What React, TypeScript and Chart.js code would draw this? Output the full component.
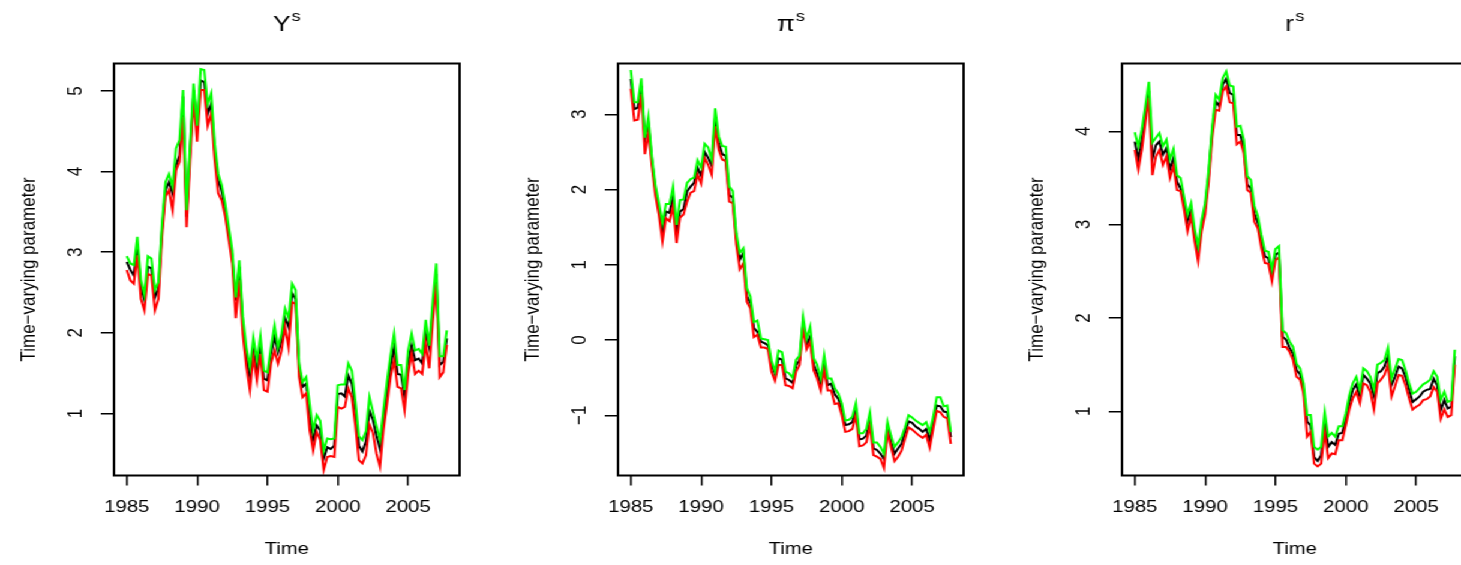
import React, { useEffect, useRef } from "react";
import { Chart, registerables } from "chart.js";

Chart.register(...registerables);

// ---------------- data (quarterly, 1985Q1 .. 2007Q4) ----------------
const START_YEAR = 1985;
const X_TICKS = [1985, 1990, 1995, 2000, 2005];

// Panel 1: Y^s
const Y_MEDIAN = [
  2.88, 2.78, 2.71, 3.08, 2.57, 2.40, 2.82, 2.80, 2.44, 2.55,
  3.27, 3.77, 3.87, 3.73, 4.08, 4.20, 4.93, 3.44, 4.26, 5.01,
  4.55, 5.13, 5.11, 4.72, 4.84, 4.26, 3.89, 3.75, 3.52, 3.23,
  2.94, 2.40, 2.82, 2.10, 1.70, 1.45, 1.78, 1.53, 1.82, 1.43,
  1.41, 1.74, 1.95, 1.76, 1.91, 2.18, 2.07, 2.49, 2.42, 1.58,
  1.33, 1.37, 0.96, 0.67, 0.85, 0.79, 0.44, 0.58, 0.56, 0.60,
  1.24, 1.25, 1.21, 1.47, 1.37, 1.05, 0.60, 0.53, 0.65, 1.03,
  0.92, 0.72, 0.56, 0.92, 1.27, 1.58, 1.82, 1.49, 1.48, 1.22,
  1.62, 1.84, 1.66, 1.68, 1.62, 1.99, 1.82, 2.28, 2.73, 1.60,
  1.64, 1.93,
];
const Y_UPPER = [
  2.95, 2.86, 2.84, 3.19, 2.66, 2.47, 2.95, 2.92, 2.53, 2.63,
  3.35, 3.87, 3.97, 3.81, 4.29, 4.39, 5.01, 3.52, 4.35, 5.09,
  4.57, 5.27, 5.26, 4.84, 4.97, 4.35, 3.97, 3.83, 3.60, 3.31,
  3.02, 2.44, 2.90, 2.20, 1.82, 1.58, 1.94, 1.66, 1.96, 1.53,
  1.51, 1.82, 2.09, 1.82, 1.99, 2.30, 2.18, 2.61, 2.53, 1.62,
  1.39, 1.45, 1.12, 0.79, 0.98, 0.91, 0.54, 0.69, 0.68, 0.69,
  1.35, 1.36, 1.36, 1.62, 1.53, 1.15, 0.72, 0.67, 0.78, 1.20,
  1.02, 0.84, 0.67, 1.05, 1.40, 1.72, 1.99, 1.60, 1.60, 1.29,
  1.78, 1.99, 1.78, 1.80, 1.74, 2.16, 1.84, 2.40, 2.86, 1.71,
  1.71, 2.03,
];
const Y_LOWER = [
  2.78, 2.65, 2.61, 2.96, 2.42, 2.28, 2.73, 2.71, 2.28, 2.42,
  3.18, 3.69, 3.77, 3.52, 4.02, 4.12, 4.68, 3.31, 4.14, 4.89,
  4.37, 5.01, 5.01, 4.57, 4.72, 4.14, 3.73, 3.64, 3.44, 3.15,
  2.86, 2.18, 2.65, 1.98, 1.58, 1.29, 1.70, 1.41, 1.74, 1.29,
  1.27, 1.62, 1.78, 1.62, 1.78, 2.07, 1.82, 2.38, 2.36, 1.45,
  1.20, 1.25, 0.79, 0.54, 0.77, 0.67, 0.30, 0.46, 0.47, 0.46,
  1.08, 1.06, 1.08, 1.31, 1.20, 0.85, 0.42, 0.38, 0.48, 0.86,
  0.76, 0.50, 0.34, 0.80, 1.12, 1.45, 1.66, 1.33, 1.31, 1.04,
  1.49, 1.74, 1.49, 1.53, 1.49, 1.87, 1.56, 2.13, 2.61, 1.45,
  1.51, 1.85,
];

// Panel 2: pi^s
const PI_MEDIAN = [
  3.47, 3.07, 3.09, 3.38, 2.67, 2.87, 2.40, 2.00, 1.75, 1.42,
  1.71, 1.69, 1.91, 1.42, 1.71, 1.74, 1.98, 2.04, 2.09, 2.29,
  2.18, 2.50, 2.42, 2.32, 2.96, 2.62, 2.47, 2.45, 1.93, 1.89,
  1.36, 1.07, 1.16, 0.58, 0.49, 0.16, 0.11, -0.02, -0.04, -0.07,
  -0.33, -0.45, -0.24, -0.26, -0.51, -0.53, -0.57, -0.33, -0.27, 0.23,
  -0.07, 0.05, -0.33, -0.44, -0.58, -0.31, -0.60, -0.58, -0.72, -0.78,
  -0.91, -1.13, -1.12, -1.09, -0.92, -1.32, -1.31, -1.27, -1.07, -1.44,
  -1.46, -1.51, -1.58, -1.16, -1.36, -1.51, -1.44, -1.38, -1.22, -1.08,
  -1.10, -1.15, -1.18, -1.22, -1.18, -1.33, -1.10, -0.87, -0.88, -0.95,
  -0.96, -1.29,
];
const PI_UPPER = [
  3.59, 3.16, 3.16, 3.48, 2.69, 2.97, 2.44, 2.06, 1.82, 1.56,
  1.81, 1.81, 2.04, 1.53, 1.86, 1.87, 2.09, 2.14, 2.16, 2.39,
  2.29, 2.61, 2.56, 2.40, 3.08, 2.71, 2.58, 2.57, 2.04, 1.98,
  1.42, 1.16, 1.22, 0.69, 0.58, 0.24, 0.26, 0.02, 0.01, 0.00,
  -0.27, -0.42, -0.14, -0.16, -0.42, -0.44, -0.50, -0.26, -0.21, 0.31,
  0.02, 0.18, -0.24, -0.33, -0.51, -0.20, -0.51, -0.51, -0.64, -0.71,
  -0.84, -1.07, -1.06, -1.02, -0.84, -1.24, -1.24, -1.18, -0.96, -1.36,
  -1.36, -1.42, -1.51, -1.09, -1.27, -1.42, -1.36, -1.29, -1.16, -1.00,
  -1.03, -1.07, -1.10, -1.13, -1.09, -1.22, -1.02, -0.76, -0.76, -0.88,
  -0.87, -1.22,
];
const PI_LOWER = [
  3.34, 2.92, 2.93, 3.27, 2.47, 2.76, 2.31, 1.92, 1.66, 1.31,
  1.62, 1.58, 1.78, 1.29, 1.63, 1.67, 1.84, 1.96, 1.98, 2.20,
  2.08, 2.42, 2.33, 2.20, 2.84, 2.53, 2.40, 2.38, 1.84, 1.82,
  1.27, 0.94, 1.02, 0.51, 0.42, 0.04, 0.07, -0.10, -0.10, -0.12,
  -0.42, -0.54, -0.33, -0.33, -0.60, -0.61, -0.64, -0.42, -0.33, 0.16,
  -0.12, -0.02, -0.40, -0.51, -0.67, -0.40, -0.67, -0.67, -0.85, -0.84,
  -1.00, -1.22, -1.21, -1.18, -1.00, -1.41, -1.40, -1.36, -1.13, -1.53,
  -1.55, -1.58, -1.70, -1.22, -1.42, -1.61, -1.55, -1.47, -1.31, -1.16,
  -1.19, -1.23, -1.27, -1.30, -1.26, -1.43, -1.18, -0.94, -0.96, -1.02,
  -1.04, -1.38,
];

// Panel 3: r^s
const R_MEDIAN = [
  3.89, 3.70, 3.91, 4.16, 4.43, 3.70, 3.85, 3.89, 3.75, 3.82,
  3.59, 3.71, 3.46, 3.39, 3.23, 3.04, 3.16, 2.89, 2.71, 3.00,
  3.18, 3.53, 4.00, 4.32, 4.27, 4.50, 4.56, 4.41, 4.39, 3.96,
  3.96, 3.82, 3.43, 3.39, 3.12, 3.02, 2.82, 2.66, 2.64, 2.46,
  2.68, 2.70, 1.80, 1.77, 1.68, 1.62, 1.44, 1.40, 1.23, 0.89,
  0.85, 0.51, 0.47, 0.53, 0.87, 0.62, 0.67, 0.64, 0.76, 0.77,
  0.91, 1.09, 1.23, 1.29, 1.16, 1.39, 1.35, 1.30, 1.16, 1.41,
  1.43, 1.48, 1.59, 1.28, 1.37, 1.48, 1.46, 1.37, 1.23, 1.10,
  1.13, 1.16, 1.21, 1.23, 1.24, 1.35, 1.28, 1.01, 1.12, 1.03,
  1.05, 1.59,
];
const R_UPPER = [
  3.99, 3.84, 4.02, 4.27, 4.53, 3.88, 3.93, 3.98, 3.84, 3.91,
  3.70, 3.81, 3.53, 3.50, 3.30, 3.11, 3.23, 2.96, 2.77, 3.05,
  3.23, 3.59, 4.05, 4.39, 4.34, 4.57, 4.64, 4.49, 4.48, 4.05,
  4.06, 3.91, 3.52, 3.48, 3.20, 3.09, 2.89, 2.72, 2.71, 2.52,
  2.74, 2.77, 1.87, 1.84, 1.75, 1.69, 1.51, 1.46, 1.30, 0.96,
  0.96, 0.62, 0.59, 0.62, 0.99, 0.73, 0.77, 0.73, 0.84, 0.84,
  0.98, 1.17, 1.30, 1.37, 1.23, 1.46, 1.43, 1.37, 1.23, 1.50,
  1.52, 1.55, 1.68, 1.35, 1.46, 1.56, 1.55, 1.44, 1.30, 1.19,
  1.21, 1.25, 1.29, 1.31, 1.34, 1.43, 1.37, 1.12, 1.21, 1.10,
  1.12, 1.66,
];
const R_LOWER = [
  3.80, 3.59, 3.80, 4.09, 4.36, 3.53, 3.73, 3.80, 3.64, 3.73,
  3.50, 3.63, 3.37, 3.36, 3.16, 2.93, 3.09, 2.82, 2.61, 2.93,
  3.11, 3.46, 3.93, 4.23, 4.22, 4.43, 4.48, 4.31, 4.30, 3.86,
  3.89, 3.77, 3.37, 3.34, 3.03, 2.96, 2.75, 2.59, 2.58, 2.39,
  2.62, 2.65, 1.69, 1.69, 1.64, 1.55, 1.37, 1.34, 1.19, 0.73,
  0.78, 0.44, 0.41, 0.44, 0.78, 0.50, 0.55, 0.54, 0.69, 0.69,
  0.85, 1.02, 1.14, 1.21, 1.09, 1.30, 1.28, 1.21, 1.02, 1.30,
  1.34, 1.39, 1.50, 1.16, 1.27, 1.39, 1.38, 1.28, 1.14, 1.02,
  1.05, 1.07, 1.12, 1.13, 1.16, 1.26, 1.21, 0.92, 1.02, 0.94,
  0.96, 1.50,
];

const Y_TICKS_Y = [1, 2, 3, 4, 5];
const Y_TICKS_PI = [-1, 0, 1, 2, 3];
const Y_TICKS_R = [1, 2, 3, 4];

const X_TITLE = "Time";
const Y_TITLE = "Time\u2212varying parameter";

// ---------------- layout (unstretched units; the page is scaled 1.2x horizontally) ----------------
const SX = 1.2;
const PAGE_W = 1461;
const PAGE_H = 565;
const AXIS_W = 95;
const BOX_W = 288;
const CANVAS_W = AXIS_W + BOX_W + 14;
const BOX_TOP = 63.5;
const BOX_BOTTOM = 475.5;
const FONT = "'Liberation Sans', Arial, Helvetica, sans-serif";
const TICK_FONT = 17;

interface PanelSpec {
  title: string;
  sup: string;
  boxLeft: number;
  yMin: number;
  yMax: number;
  yTicks: number[];
  median: number[];
  lower: number[];
  upper: number[];
}

const PANELS: PanelSpec[] = [
  { title: "Y", sup: "s", boxLeft: 95, yMin: 0.23, yMax: 5.34, yTicks: Y_TICKS_Y, median: Y_MEDIAN, lower: Y_LOWER, upper: Y_UPPER },
  { title: "\u03c0", sup: "s", boxLeft: 515.25, yMin: -1.8, yMax: 3.676, yTicks: Y_TICKS_PI, median: PI_MEDIAN, lower: PI_LOWER, upper: PI_UPPER },
  { title: "r", sup: "s", boxLeft: 935.25, yMin: 0.313, yMax: 4.726, yTicks: Y_TICKS_R, median: R_MEDIAN, lower: R_LOWER, upper: R_UPPER },
];

const fmt = (v: number) => String(v).replace("-", "\u2212");

function Panel({ spec }: { spec: PanelSpec }) {
  const ref = useRef<HTMLCanvasElement>(null);

  useEffect(() => {
    const canvas = ref.current;
    if (!canvas) return;
    const time = spec.median.map((_, i) => START_YEAR + i / 4);
    const pts = (arr: number[]) => arr.map((v, i) => ({ x: time[i], y: v }));

    const mctx = document.createElement("canvas").getContext("2d")!;
    mctx.font = `${TICK_FONT}px ${FONT}`;
    const widest = Math.max(...spec.yTicks.map((t) => mctx.measureText(fmt(t)).width));
    const yTickLen = 11;
    const yLabelCenter = 31.6;
    const yPad = yLabelCenter - yTickLen - widest / 2;

    const decor = {
      id: "decor",
      afterDatasetsDraw(chart: any) {
        const { ctx, chartArea: ca } = chart;
        ctx.save();
        ctx.strokeStyle = "#000";
        ctx.lineWidth = 2;
        ctx.strokeRect(ca.left, ca.top, ca.right - ca.left, ca.bottom - ca.top);
        ctx.restore();
      },
      afterDraw(chart: any) {
        const { ctx, chartArea: ca } = chart;
        const cx = (ca.left + ca.right) / 2;
        ctx.save();
        ctx.fillStyle = "#000";
        ctx.textBaseline = "alphabetic";
        // main title with superscript
        const mainF = `22px ${FONT}`;
        const supF = `15px ${FONT}`;
        ctx.font = mainF;
        const w1 = ctx.measureText(spec.title).width;
        ctx.font = supF;
        const w2 = ctx.measureText(spec.sup).width;
        const x0 = cx - (w1 + w2 + 1) / 2;
        ctx.textAlign = "left";
        ctx.font = mainF;
        ctx.fillText(spec.title, x0, 31);
        ctx.font = supF;
        ctx.fillText(spec.sup, x0 + w1 + 1, 21);
        // x title
        ctx.font = `${TICK_FONT}px ${FONT}`;
        ctx.textAlign = "center";
        ctx.fillText(X_TITLE, cx, ca.bottom + 78.8);
        // y title
        ctx.translate(ca.left - 66.2, (ca.top + ca.bottom) / 2);
        ctx.rotate(-Math.PI / 2);
        ctx.fillText(Y_TITLE, 0, 0);
        ctx.restore();
      },
    };

    const chart = new Chart(canvas, {
      type: "line",
      data: {
        datasets: [
          { data: pts(spec.upper), borderColor: "#00ff00", borderWidth: 2, pointRadius: 0, tension: 0, fill: false },
          { data: pts(spec.lower), borderColor: "#ff0000", borderWidth: 2, pointRadius: 0, tension: 0, fill: false },
          { data: pts(spec.median), borderColor: "#000000", borderWidth: 2, pointRadius: 0, tension: 0, fill: false },
        ],
      },
      options: {
        responsive: false,
        animation: false,
        devicePixelRatio: 1,
        layout: { padding: { left: 0, top: BOX_TOP, bottom: 0, right: CANVAS_W - AXIS_W - BOX_W } },
        plugins: { legend: { display: false }, tooltip: { enabled: false }, title: { display: false } },
        scales: {
          x: {
            type: "linear",
            min: 1984.09,
            max: 2008.66,
            afterBuildTicks: (s: any) => {
              s.ticks = X_TICKS.map((v) => ({ value: v }));
            },
            afterFit: (s: any) => {
              s.height = PAGE_H - BOX_BOTTOM;
            },
            border: { display: false },
            grid: { drawOnChartArea: false, drawTicks: true, tickLength: 10, color: "#000", lineWidth: 1.5 },
            ticks: {
              autoSkip: false,
              maxRotation: 0,
              minRotation: 0,
              padding: 11.5,
              color: "#000",
              font: { family: FONT, size: TICK_FONT },
              callback: (v: any) => String(v),
            },
          },
          y: {
            type: "linear",
            min: spec.yMin,
            max: spec.yMax,
            afterBuildTicks: (s: any) => {
              s.ticks = spec.yTicks.map((v) => ({ value: v }));
            },
            afterFit: (s: any) => {
              s.width = AXIS_W;
            },
            border: { display: false },
            grid: { drawOnChartArea: false, drawTicks: true, tickLength: yTickLen, color: "#000", lineWidth: 1.5 },
            ticks: {
              autoSkip: false,
              minRotation: 90,
              maxRotation: 90,
              crossAlign: "center",
              padding: yPad,
              color: "#000",
              font: { family: FONT, size: TICK_FONT },
              callback: (v: any) => fmt(Number(v)),
            },
          },
        },
      } as any,
      plugins: [decor],
    });
    return () => chart.destroy();
  }, [spec]);

  return (
    <canvas
      ref={ref}
      width={CANVAS_W}
      height={PAGE_H}
      style={{ position: "absolute", left: spec.boxLeft - AXIS_W, top: 0, display: "block" }}
    />
  );
}

export default function App() {
  return (
    <div
      style={{
        position: "fixed",
        left: 0,
        top: 0,
        width: PAGE_W / SX,
        height: PAGE_H,
        overflow: "hidden",
        background: "#fff",
        transform: `scaleX(${SX})`,
        transformOrigin: "0 0",
      }}
    >
      {PANELS.map((p) => (
        <Panel key={p.title} spec={p} />
      ))}
    </div>
  );
}
